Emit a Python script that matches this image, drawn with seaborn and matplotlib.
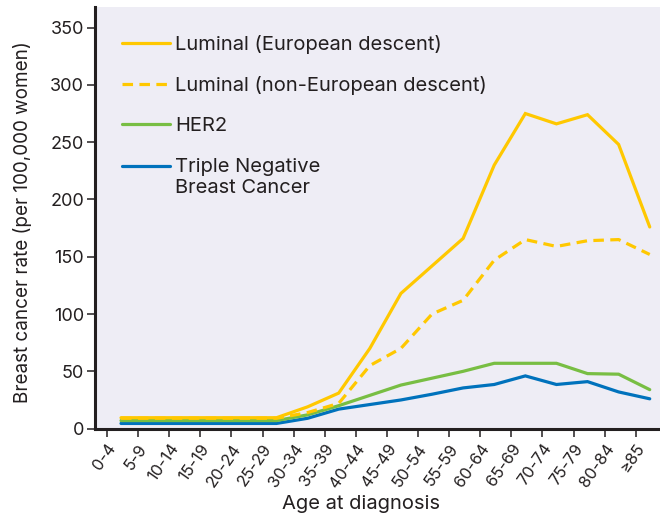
import numpy as np
import pandas as pd
import matplotlib
matplotlib.use("Agg")
import matplotlib.pyplot as plt
import seaborn as sns

# Age groups at diagnosis
age_groups = ["0-4", "5-9", "10-14", "15-19", "20-24", "25-29", "30-34", "35-39",
              "40-44", "45-49", "50-54", "55-59", "60-64", "65-69", "70-74",
              "75-79", "80-84", "\u226585"]

# Incidence per 100,000 women by subtype
luminal_european = [9.5, 9.5, 9.5, 9.5, 9.5, 9.5, 19, 31, 70, 118, 142, 166,
                    230, 275, 266, 274, 248, 176]
luminal_non_european = [9, 9, 9, 9, 9, 9, 14, 22, 55, 70, 100, 112,
                        147, 165, 159, 164, 165, 152]
her2 = [7, 7, 7, 7, 7, 7, 12, 20, 29, 38, 44, 50,
        57, 57, 57, 48, 47.5, 34]
triple_negative = [4.5, 4.5, 4.5, 4.5, 4.5, 4.5, 9, 17, 21, 25, 30, 35.5,
                   38.5, 46, 38.5, 41, 32, 26]

series_names = ["Luminal (European descent)", "Luminal (non-European descent)",
                "HER2", "Triple Negative\nBreast Cancer"]
series_values = [luminal_european, luminal_non_european, her2, triple_negative]
series_colors = ["#FFC800", "#FFC800", "#78BE43", "#0072BC"]
series_styles = ["-", "--", "-", "-"]

TEXT = "#231F20"
BG = "#EEEDF5"

sns.set_theme(style="ticks")
plt.rcParams["font.family"] = ["Inter", "DejaVu Sans"]
plt.rcParams["text.color"] = TEXT
plt.rcParams["axes.labelcolor"] = TEXT
plt.rcParams["xtick.color"] = TEXT
plt.rcParams["ytick.color"] = TEXT

# each rate is plotted within its age band, offset from the band's tick
offset = 0.45
positions = np.arange(len(age_groups)) + offset

frames = []
for name, vals in zip(series_names, series_values):
    frames.append(pd.DataFrame({"pos": positions, "rate": vals, "subtype": name}))
df = pd.concat(frames, ignore_index=True)

fig = plt.figure(figsize=(6.6, 5.19), dpi=100)
ax = fig.add_axes([95 / 660, 1 - 428.6 / 519, 565 / 660, (428.6 - 7) / 519])
ax.set_facecolor(BG)

lw = 2.3
draw_order = [3, 2, 1, 0]
lines = {}
for i in draw_order:
    name = series_names[i]
    sub = df[df["subtype"] == name]
    sns.lineplot(data=sub, x="pos", y="rate", ax=ax, color=series_colors[i],
                 linewidth=lw, label=name, legend=False)
    line = ax.lines[-1]
    line.set_solid_joinstyle("miter")
    if series_styles[i] == "--":
        line.set_linestyle((0, (3.3, 2.0)))
    lines[name] = line

ax.set_xlim(-0.386, 17.78)
ax.set_ylim(0, 368)
ax.set_xticks(np.arange(len(age_groups)))
ax.set_xticklabels(age_groups, rotation=55, ha="right", rotation_mode="anchor",
                   fontsize=11.8)
ax.set_yticks(np.arange(0, 351, 50))
ax.tick_params(axis="y", labelsize=13, length=6, width=1.1, direction="out", pad=2)
ax.tick_params(axis="x", length=6, width=1.1, direction="out", pad=3)

for side in ["top", "right"]:
    ax.spines[side].set_visible(False)
for side in ["left", "bottom"]:
    ax.spines[side].set_linewidth(2.2)
    ax.spines[side].set_color(TEXT)

ax.set_xlabel("Age at diagnosis", fontsize=14.5)
ax.set_ylabel("Breast cancer rate (per 100,000 women)", fontsize=13.6)
ax.xaxis.set_label_coords((361 - 95) / 565, (428.6 - 495) / 421.6)
ax.yaxis.set_label_coords((32 - 95) / 565, 1 - (222 - 7) / 421.6)

handles = [lines[n] for n in series_names]
leg = ax.legend(handles, series_names, loc="upper left",
                bbox_to_anchor=(27 / 565, 1 - 28 / 421.6), frameon=False,
                fontsize=14.5, handlelength=2.4, handletextpad=0.25,
                labelspacing=1.1, borderpad=0, borderaxespad=0)
for t in leg.get_texts():
    t.set_color(TEXT)
leg.get_texts()[-1].set_linespacing(1.25)

# put the last handle beside the first line of its two-line label,
# with the same handle/text relation as the first entry
fig.canvas.draw()
texts = leg.get_texts()
hnds = leg.legend_handles
first_bb = texts[0].get_window_extent()
last_bb = texts[-1].get_window_extent()


def handle_y(hd):
    xd, yd = hd.get_xdata(), hd.get_ydata()
    return hd.get_transform().transform((xd[0], yd[0]))[1]


rel = handle_y(hnds[0]) - (first_bb.y0 + first_bb.y1) / 2
target = last_bb.y1 - first_bb.height / 2 + rel
shift_pts = (target - handle_y(hnds[-1])) * 72 / fig.dpi
hnds[-1].set_ydata(np.asarray(hnds[-1].get_ydata()) + shift_pts)

fig.savefig("out.png", dpi=100)
